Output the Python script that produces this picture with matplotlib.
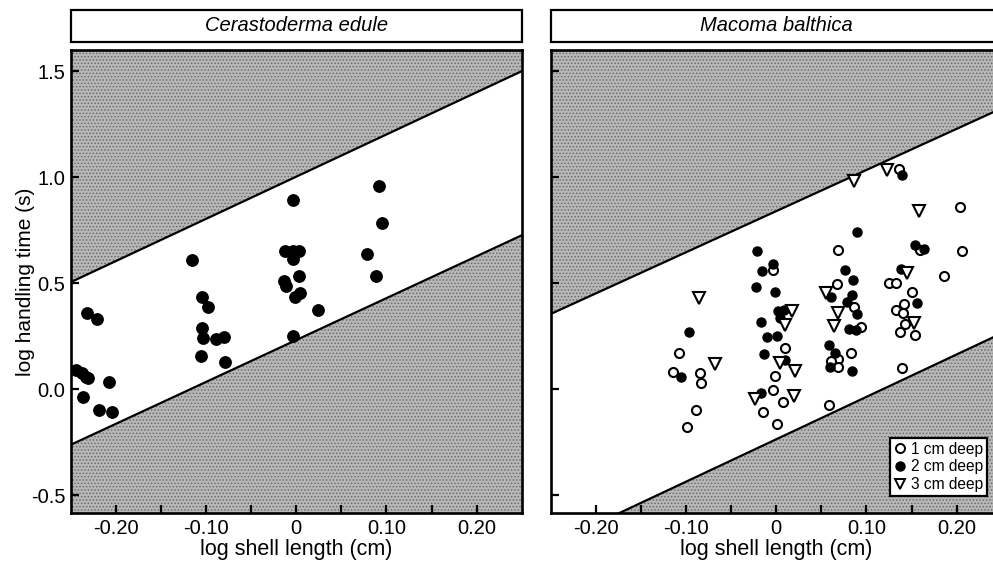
import matplotlib
matplotlib.use("Agg")
import matplotlib.pyplot as plt
from matplotlib.patches import Rectangle
from matplotlib.lines import Line2D

plt.rcParams['font.family'] = ['Liberation Sans', 'DejaVu Sans']
plt.rcParams['hatch.linewidth'] = 0.7

# ---------------- data ----------------
titles = ["Cerastoderma edule", "Macoma balthica"]
xlabel = "log shell length (cm)"
ylabel = "log handling time (s)"
xticks_major = [-0.20, -0.10, 0.0, 0.10, 0.20]
xtick_labels = ["-0.20", "-0.10", "0", "0.10", "0.20"]
xticks_minor = [-0.15, -0.05, 0.05, 0.15]
yticks = [-0.5, 0.0, 0.5, 1.0, 1.5]
ytick_labels = ["-0.5", "0.0", "0.5", "1.0", "1.5"]
xlim = (-0.25, 0.25)
ylim = (-0.585, 1.6)

# boundary lines (values at x = -0.25 and x = 0.25)
bound_x = [-0.25, 0.25]
cer_upper = [0.505, 1.50]
cer_lower = [-0.262, 0.726]
mac_upper = [0.355, 1.325]
mac_lower = [-0.736, 0.264]

# Cerastoderma edule
cer_x = [-0.244, -0.238, -0.233, -0.231, -0.236, -0.232, -0.221, -0.219, -0.208, -0.204,
         -0.115, -0.104, -0.098, -0.104, -0.103, -0.106, -0.089, -0.080, -0.079,
         -0.004, -0.012, -0.004, 0.003, -0.004, 0.003, -0.014, -0.011, -0.001, 0.004, -0.004, 0.024,
         0.078, 0.088, 0.092, 0.095]
cer_y = [0.091, 0.078, 0.059, 0.055, -0.038, 0.362, 0.329, -0.100, 0.034, -0.107,
         0.608, 0.433, 0.389, 0.287, 0.243, 0.158, 0.237, 0.248, 0.127,
         0.891, 0.651, 0.651, 0.651, 0.616, 0.536, 0.511, 0.486, 0.436, 0.452, 0.251, 0.376,
         0.640, 0.535, 0.958, 0.786]

# Macoma balthica, 1 cm deep
d1_x = [-0.108, -0.1145, -0.085, -0.083, -0.089, -0.099,
        -0.003, 0.010, -0.001, -0.004, 0.008, -0.015, 0.001,
        0.059, 0.068, 0.067, 0.086, 0.094, 0.069, 0.061, 0.069, 0.083,
        0.136, 0.159, 0.125, 0.133, 0.150, 0.142, 0.133, 0.141, 0.143, 0.137, 0.154, 0.140,
        0.204, 0.206, 0.186]
d1_y = [0.171, 0.080, 0.075, 0.031, -0.097, -0.176,
        0.561, 0.193, 0.063, -0.005, -0.062, -0.106, -0.166,
        -0.074, 0.659, 0.496, 0.389, 0.295, 0.141, 0.135, 0.106, 0.169,
        1.040, 0.659, 0.502, 0.502, 0.459, 0.401, 0.376, 0.358, 0.307, 0.271, 0.255, 0.099,
        0.859, 0.651, 0.535]

# Macoma balthica, 2 cm deep
d2_x = [-0.097, -0.106,
        -0.0215, -0.004, -0.0155, -0.022, -0.001, 0.002, 0.009, 0.004, -0.0166, -0.010, 0.001,
        -0.014, 0.010, -0.017,
        0.090, 0.076, 0.085, 0.061, 0.084, 0.078, 0.090, 0.081, 0.089, 0.058, 0.065, 0.060, 0.084,
        0.139, 0.154, 0.164, 0.138, 0.156]
d2_y = [0.268, 0.058,
        0.652, 0.593, 0.557, 0.480, 0.459, 0.368, 0.373, 0.334, 0.315, 0.245, 0.252,
        0.166, 0.138, -0.016,
        0.742, 0.561, 0.514, 0.436, 0.444, 0.412, 0.353, 0.284, 0.279, 0.208, 0.169, 0.106, 0.088,
        1.012, 0.682, 0.660, 0.569, 0.408]

# Macoma balthica, 3 cm deep
d3_x = [-0.086, -0.068,
        0.010, 0.018, 0.004, 0.021, -0.024, 0.020,
        0.086, 0.055, 0.068, 0.064,
        0.123, 0.158, 0.145, 0.153]
d3_y = [0.431, 0.118,
        0.303, 0.370, 0.122, 0.088, -0.047, -0.030,
        0.980, 0.455, 0.358, 0.299,
        1.035, 0.839, 0.549, 0.313]

legend_labels = ["1 cm deep", "2 cm deep", "3 cm deep"]

# ---------------- figure ----------------
W, H = 993, 563
fig = plt.figure(figsize=(W / 100, H / 100), dpi=100)

ax_w = 451 / W
ax_h = 463.3 / H
ax_b = 49.7 / H
axL = fig.add_axes([70.7 / W, ax_b, ax_w, ax_h])
axR = fig.add_axes([550.7 / W, ax_b, ax_w, ax_h])

shade_face = '#b8b8b8'
shade_hatch = '#6a6a6a'


def setup(ax, upper, lower, show_ylabels):
    ax.set_xlim(*xlim)
    ax.set_ylim(*ylim)
    ax.fill_between(bound_x, upper, [ylim[1]] * 2, facecolor=shade_face,
                    edgecolor=shade_hatch, hatch='.....', linewidth=0, zorder=1)
    ax.fill_between(bound_x, [ylim[0]] * 2, lower, facecolor=shade_face,
                    edgecolor=shade_hatch, hatch='.....', linewidth=0, zorder=1)
    ax.plot(bound_x, upper, color='black', lw=1.6, zorder=2)
    ax.plot(bound_x, lower, color='black', lw=1.6, zorder=2)
    ax.set_xticks(xticks_major)
    ax.set_xticklabels(xtick_labels)
    ax.set_xticks(xticks_minor, minor=True)
    ax.set_yticks(yticks)
    if show_ylabels:
        ax.set_yticklabels(ytick_labels)
    else:
        ax.set_yticklabels([])
    ax.tick_params(axis='both', which='both', direction='in', length=6, width=1.6,
                   labelsize=14.5, pad=4)
    for s in ax.spines.values():
        s.set_linewidth(1.9)
    ax.set_xlabel(xlabel, fontsize=15.5, labelpad=1)


setup(axL, cer_upper, cer_lower, True)
setup(axR, mac_upper, mac_lower, False)
axL.set_ylabel(ylabel, fontsize=15, labelpad=-3)

axL.plot(cer_x, cer_y, 'o', color='black', markersize=8.2, zorder=3, linestyle='none')

axR.plot(d1_x, d1_y, 'o', markerfacecolor='white', markeredgecolor='black',
         markeredgewidth=1.5, markersize=6.5, linestyle='none', zorder=3)
axR.plot(d2_x, d2_y, 'o', color='black', markersize=6.5, linestyle='none', zorder=3)
axR.plot(d3_x, d3_y, 'v', markerfacecolor='white', markeredgecolor='black',
         markeredgewidth=1.5, markersize=8, linestyle='none', zorder=3)

# title boxes
box_b = (563 - 41.7) / H
box_h = 31.7 / H
for ax, t in zip([axL, axR], titles):
    pos = ax.get_position()
    rect = Rectangle((pos.x0, box_b), pos.width, box_h, transform=fig.transFigure,
                     facecolor='white', edgecolor='black', linewidth=1.6)
    fig.add_artist(rect)
    fig.text(pos.x0 + pos.width / 2, box_b + box_h / 2, t, ha='center', va='center',
             fontsize=14.5, style='italic')

# legend
handles = [
    Line2D([], [], marker='o', linestyle='none', markerfacecolor='white',
           markeredgecolor='black', markeredgewidth=1.4, markersize=6.5),
    Line2D([], [], marker='o', linestyle='none', color='black', markersize=6.5),
    Line2D([], [], marker='v', linestyle='none', markerfacecolor='white',
           markeredgecolor='black', markeredgewidth=1.4, markersize=7.5),
]
leg = fig.legend(handles, legend_labels, loc='lower right',
                 bbox_to_anchor=(986.7 / W, (563 - 496) / H),
                 fontsize=11.2, frameon=True, fancybox=False, framealpha=1,
                 edgecolor='black', handlelength=0.8, handletextpad=0.3,
                 borderpad=0.25, labelspacing=0.18, borderaxespad=0)
leg.get_frame().set_linewidth(1.6)

fig.savefig('out.png', dpi=100)
